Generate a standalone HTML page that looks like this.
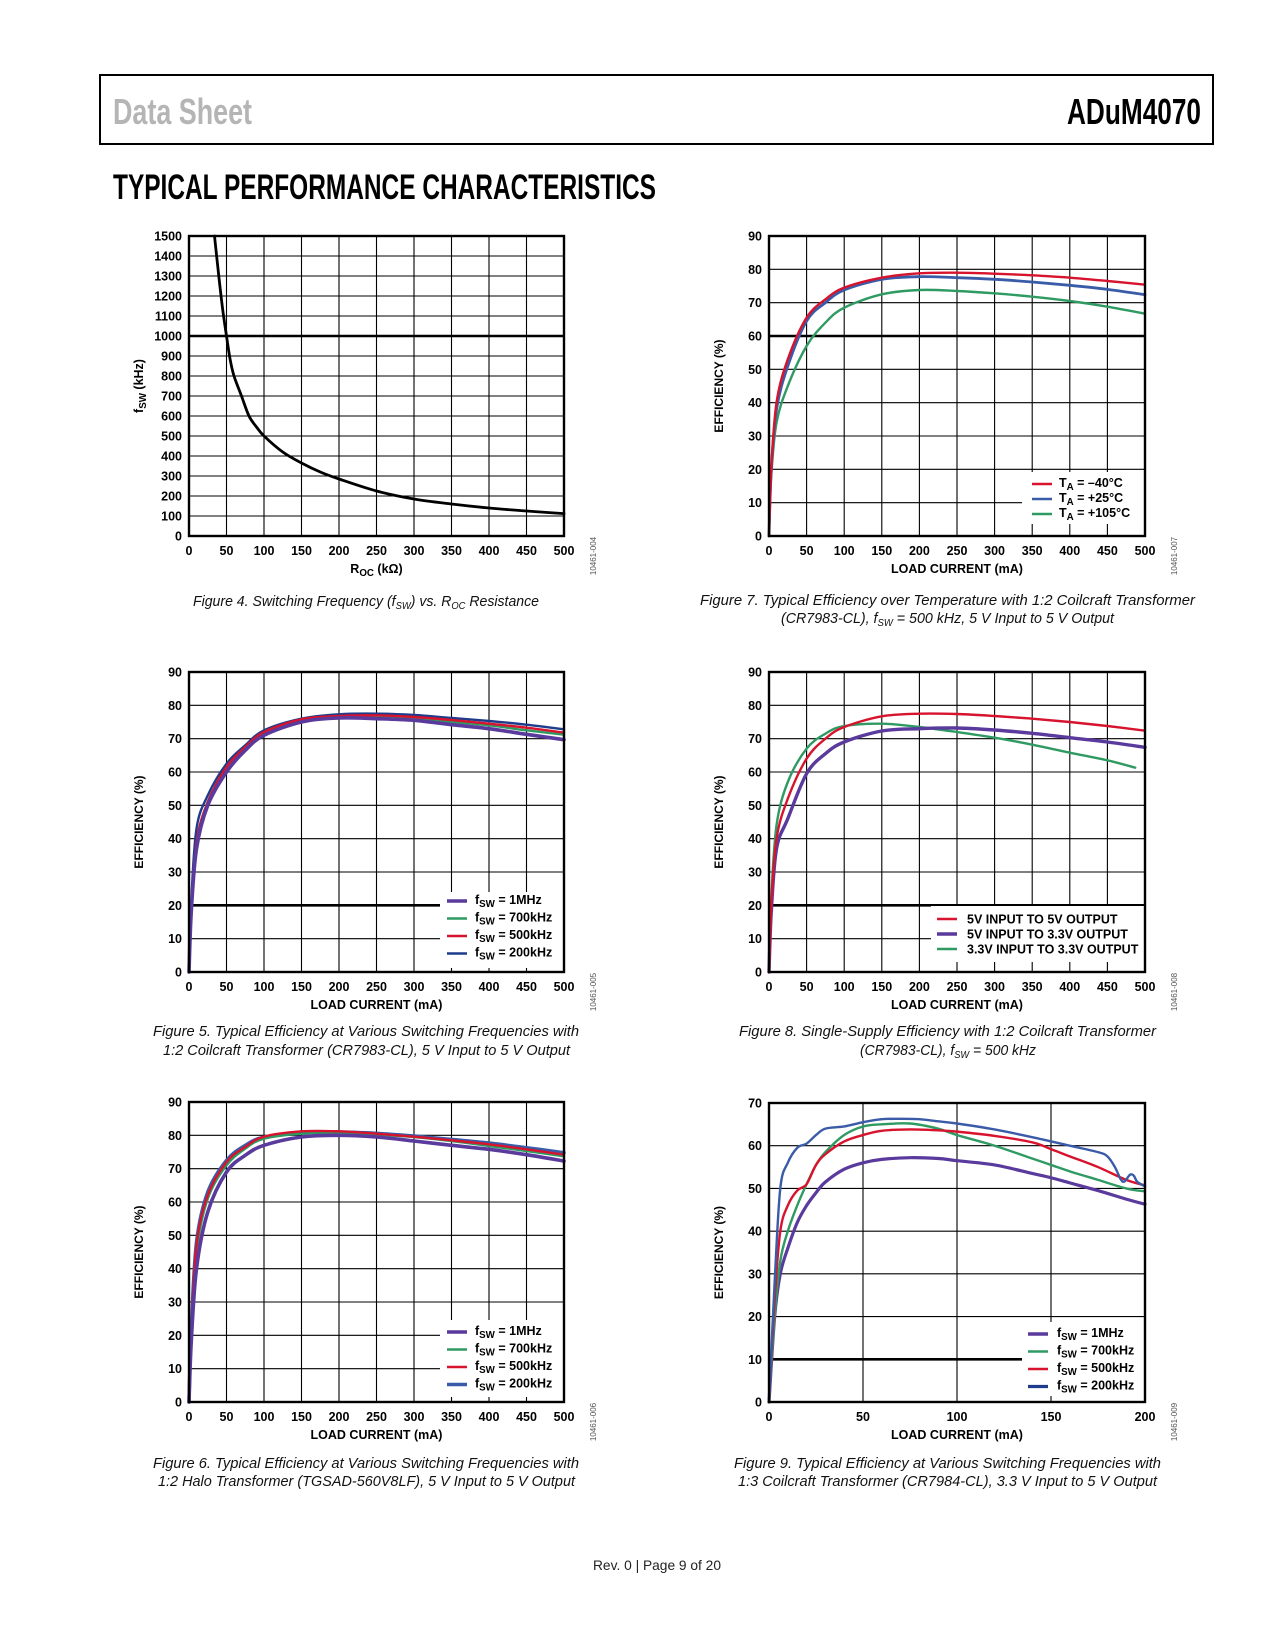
<!DOCTYPE html>
<html><head><meta charset="utf-8"><title>ADuM4070 Typical Performance Characteristics</title>
<style>
html,body{margin:0;padding:0;background:#fff;}
svg{display:block;font-family:"Liberation Sans",sans-serif;}
</style></head>
<body>
<svg id="page" xmlns="http://www.w3.org/2000/svg" width="1275" height="1650" viewBox="0 0 1275 1650">
<rect x="0" y="0" width="1275" height="1650" fill="#fff"/>
<rect x="100" y="75" width="1113" height="69" fill="none" stroke="#000" stroke-width="2"/>
<text x="113" y="124" font-size="36" font-weight="bold" fill="#b5b5b5" textLength="139" lengthAdjust="spacingAndGlyphs">Data Sheet</text>
<text x="1067" y="124" font-size="36" font-weight="bold" fill="#000" textLength="134" lengthAdjust="spacingAndGlyphs">ADuM4070</text>
<text x="113" y="199" font-size="35" font-weight="bold" fill="#000" textLength="543" lengthAdjust="spacingAndGlyphs">TYPICAL PERFORMANCE CHARACTERISTICS</text>
<text x="593" y="1570" font-size="14" fill="#222" textLength="128" lengthAdjust="spacingAndGlyphs">Rev. 0 | Page 9 of 20</text>
<g id="charts"></g>
</svg>
<script>
// ---------- Figure 4 data ----------
const fig4R = [34,40,45,50,55,60,70,80,90,100,125,150,175,200,250,300,350,400,450,500];
const fig4F = [1500,1290,1130,1000,880,800,700,600,545,500,420,365,320,285,225,185,160,140,125,112];
// ---------- Figure 7 data ----------
const fig7X = [0,3,10,25,50,75,100,150,200,250,300,350,400,450,500];
const fig7Minus40 = [0,20,40,53,65.5,71,74.5,77.5,78.8,79,78.7,78.2,77.5,76.5,75.4];
const fig7Plus25 = [0,20,38,51,64.5,70,73.8,77,77.8,77.5,77,76.2,75.2,74,72.4];
const fig7Plus105 = [0,18,34,45,57,64,68.5,72.5,73.8,73.5,72.8,71.8,70.5,68.8,66.7];
// ---------- Figure 5 data ----------
const fig5X = [0,3,10,25,50,75,100,150,200,250,300,350,400,450,500];
const fig5F1M = [0,18,37,50,60,66.5,71,75,76.2,76,75.5,74.2,73,71.3,69.7];
const fig5F700k = [0,19,38,51,61,67,71.5,75.5,76.5,76.5,76,75,74,72.5,71.2];
const fig5F500k = [0,19,39,51,61.5,67.5,72,75.8,76.8,77,76.5,75.6,74.5,73.3,71.8];
const fig5F200k = [0,21,43,53,62.5,68,72.5,76,77.3,77.5,77.1,76.2,75.3,74.2,72.8];
// ---------- Figure 8 data ----------
const fig8X = [0,3,10,25,50,75,100,150,200,250,300,350,400,450,500];
const fig8In5Out5 = [0,20,40,52,64,70,73.5,76.7,77.5,77.4,76.8,76,75,73.8,72.4];
const fig8In5Out33 = [0,18,37,46,59.5,65.5,69,72.3,73,73.2,72.6,71.6,70.3,69,67.4];
const fig8GreenX = [0,3,10,25,50,75,100,150,200,250,300,350,400,450,487];
const fig8In33Out33 = [0,22,44,57,67,71.5,73.8,74.5,73.5,72,70.3,68.2,65.8,63.5,61.3];
// ---------- Figure 6 data ----------
const fig6X = [0,3,10,25,50,75,100,150,200,250,300,350,400,450,500];
const fig6F1M = [0,18,40,57,69,74,77,79.5,80,79.5,78.3,77,75.8,74.2,72.3];
const fig6F700k = [0,20,45,61,71,76,79,80.5,80.7,80.2,79.5,78.3,76.8,75.3,73.7];
const fig6F500k = [0,21,47,62,72,76.5,79.6,81.2,81.2,80.5,79.6,78.5,77.3,75.8,74.2];
const fig6F200k = [0,22,48,63,72.5,77,79.5,80.8,81,80.6,79.8,78.8,77.7,76.3,74.8];
// ---------- Figure 9 data ----------
const fig9X = [0,3,6,10,15,20,25,30,40,50,60,75,90,100,120,140,150,160,175,190,200];
const fig9F1M = [0,20,30,36,42,46,49,51.5,54.5,56,56.8,57.2,57,56.5,55.5,53.5,52.5,51.3,49.5,47.5,46.3];
const fig9F700k = [0,20,33,40,46,51,55.5,58.5,62.5,64.5,65,65.2,64,62.5,60,57,55.5,54,52,50,49.3];
const fig9F500k = [0,24,40,46,49.5,51,55.5,58,61,62.5,63.5,63.8,63.6,63.3,62.3,60.8,59.2,57.5,55,52,50.7];
const fig9BlueX = [0,3,6,10,15,20,25,30,40,50,60,70,80,90,100,120,140,160,175,180,184,187,189,192,194,196,200];
const fig9F200k = [0,28,50,56,59.5,60.5,62.5,64,64.5,65.5,66.2,66.3,66.2,65.7,65.2,63.8,62,60,58.5,57.5,55,52.2,51.6,53.2,53,51.5,50.5];

const RED='#d7132d', BLUE='#3a5ca8', DBLUE='#1f3c8c', GREEN='#2f9a62', PURPLE='#5a3a9c';
const NS='http://www.w3.org/2000/svg';
const root=document.getElementById('charts');

function mk(tag,parent){const e=document.createElementNS(NS,tag);parent.appendChild(e);return e;}
function smoothPath(pts){
  let d='M'+pts[0][0].toFixed(2)+','+pts[0][1].toFixed(2);
  for(let i=0;i<pts.length-1;i++){
    const p0=pts[i-1]||pts[i],p1=pts[i],p2=pts[i+1],p3=pts[i+2]||p2;
    const c1x=p1[0]+(p2[0]-p0[0])/6,c1y=p1[1]+(p2[1]-p0[1])/6;
    const c2x=p2[0]-(p3[0]-p1[0])/6,c2y=p2[1]-(p3[1]-p1[1])/6;
    d+=' C'+c1x.toFixed(2)+','+c1y.toFixed(2)+' '+c2x.toFixed(2)+','+c2y.toFixed(2)+' '+p2[0].toFixed(2)+','+p2[1].toFixed(2);
  }
  return d;
}
function subText(t,x,y,main,sub,rest,size,anchor){
  t.setAttribute('x',x);t.setAttribute('y',y);
  t.setAttribute('font-size',size);t.setAttribute('font-weight','bold');
  if(anchor)t.setAttribute('text-anchor',anchor);
  const a=mk('tspan',t);a.textContent=main;
  const b=mk('tspan',t);b.textContent=sub;b.setAttribute('font-size',size*0.78);b.setAttribute('dy','3');
  const c=mk('tspan',t);c.textContent=rest;c.setAttribute('dy','-3');
}

function drawChart(c){
  const g=mk('g',root);
  
  
  const L=c.left,R=c.left+c.w,T=c.top,B=c.top+c.h;
  const sx=v=>L+(v-c.xmin)/(c.xmax-c.xmin)*c.w;
  const sy=v=>B-(v-c.ymin)/(c.ymax-c.ymin)*c.h;
  // grid
  for(let v=c.xmin;v<=c.xmax+1e-9;v+=c.xgrid){
    const l=mk('line',g);
    
    
    l.setAttribute('x1',sx(v));l.setAttribute('x2',sx(v));l.setAttribute('y1',T);l.setAttribute('y2',B);
    l.setAttribute('stroke','#000');l.setAttribute('stroke-width','1.1');
  }
  for(let v=c.ymin;v<=c.ymax+1e-9;v+=c.ystep){
    const l=mk('line',g);
    
    
    l.setAttribute('x1',L);l.setAttribute('x2',R);l.setAttribute('y1',sy(v));l.setAttribute('y2',sy(v));
    l.setAttribute('stroke','#000');l.setAttribute('stroke-width',v===c.heavy?'2.6':'1.1');
  }
  // legend box (covers grid)
  if(c.legend){
    const lb=mk('rect',g);
    
    
    lb.setAttribute('x',c.legend.bx);lb.setAttribute('y',c.legend.by);
    lb.setAttribute('width',R-c.legend.bx-1);lb.setAttribute('height',c.legend.bh);
    lb.setAttribute('fill','#fff');
  }
  // series
  c.series.forEach(s=>{
    const pts=s.x.map((xv,i)=>[sx(xv),sy(s.y[i])]);
    const p=mk('path',g);
    
    
    p.setAttribute('d',smoothPath(pts));
    p.setAttribute('fill','none');p.setAttribute('stroke',s.color);
    p.setAttribute('stroke-width',s.width||2.4);p.setAttribute('stroke-linejoin','round');p.setAttribute('stroke-linecap','round');
  });
  // frame
  const fr=mk('rect',g);
  
  
  fr.setAttribute('x',L);fr.setAttribute('y',T);fr.setAttribute('width',c.w);fr.setAttribute('height',c.h);
  fr.setAttribute('fill','none');fr.setAttribute('stroke','#000');fr.setAttribute('stroke-width','2.4');
  // ticks
  c.xticks.forEach(v=>{
    const t=mk('text',g);
    
    
    t.setAttribute('x',sx(v));t.setAttribute('y',B+19);t.setAttribute('text-anchor','middle');
    t.setAttribute('font-size','12.5');t.setAttribute('font-weight','bold');t.textContent=v;
  });
  c.yticks.forEach(v=>{
    const t=mk('text',g);
    
    
    t.setAttribute('x',L-7);t.setAttribute('y',sy(v)+4.5);t.setAttribute('text-anchor','end');
    t.setAttribute('font-size','12.5');t.setAttribute('font-weight','bold');t.textContent=v;
  });
  // axis titles
  const xt=mk('text',g);
  
  
  if(c.xsub){subText(xt,L+c.w/2,B+37,c.xtitle[0],c.xsub,c.xtitle[1],12.5,'middle');}
  else{xt.setAttribute('x',L+c.w/2);xt.setAttribute('y',B+37);xt.setAttribute('text-anchor','middle');xt.setAttribute('font-size','12.5');xt.setAttribute('font-weight','bold');xt.textContent=c.xtitle;}
  const yt=mk('text',g);
  
  
  yt.setAttribute('transform','translate('+(L-46)+','+(T+c.h/2)+') rotate(-90)');
  if(c.ysub){subText(yt,0,0,c.ytitle[0],c.ysub,c.ytitle[1],12.5,'middle');}
  else{yt.setAttribute('x',0);yt.setAttribute('y',0);yt.setAttribute('text-anchor','middle');yt.setAttribute('font-size','12');yt.setAttribute('font-weight','bold');yt.textContent=c.ytitle;}
  // side code
  const sc=mk('text',g);
  
  
  sc.setAttribute('transform','translate('+(R+32)+','+(B+20)+') rotate(-90)');
  sc.setAttribute('text-anchor','middle');sc.setAttribute('font-size','8');sc.setAttribute('fill','#555');sc.textContent=c.code;
  // legend
  if(c.legend){
    c.legend.items.forEach((it,i)=>{
      const y=c.legend.y0+i*c.legend.dy;
      const ll=mk('line',g);
      
      
      ll.setAttribute('x1',c.legend.lx);ll.setAttribute('x2',c.legend.lx+20);ll.setAttribute('y1',y);ll.setAttribute('y2',y);
      ll.setAttribute('stroke',it.color);ll.setAttribute('stroke-width',it.width||2.4);
      const tt=mk('text',g);
      
      
      if(it.sub){subText(tt,c.legend.tx,y+3,it.main,it.sub,it.rest,12.5);}
      else{tt.setAttribute('x',c.legend.tx);tt.setAttribute('y',y+4.5);tt.setAttribute('font-size','12.5');tt.setAttribute('font-weight','bold');tt.textContent=it.text;}
    });
  }
  // caption
  c.caption.forEach((ln,i)=>{
    const t=mk('text',g);
    
    
    t.setAttribute('x',ln.x);t.setAttribute('y',ln.y);t.setAttribute('font-size','15');t.setAttribute('font-style','italic');
    t.setAttribute('fill','#111');t.setAttribute('textLength',ln.w);t.setAttribute('lengthAdjust','spacingAndGlyphs');
    ln.parts.forEach(p=>{
      const s=mk('tspan',t);s.textContent=p[0];
      if(p[1]==='sub'){s.setAttribute('font-size','10');s.setAttribute('dy','3');}
      if(p[1]==='up'){s.setAttribute('dy','-3');}
    });
  });
}

const effTicks=[0,10,20,30,40,50,60,70,80,90];
const loadTicks=[0,50,100,150,200,250,300,350,400,450,500];
const fswItems=(w200)=>[
  {color:PURPLE,width:3.6,main:'f',sub:'SW',rest:' = 1MHz'},
  {color:GREEN,main:'f',sub:'SW',rest:' = 700kHz'},
  {color:RED,main:'f',sub:'SW',rest:' = 500kHz'},
  {color:w200.c,width:w200.w,main:'f',sub:'SW',rest:' = 200kHz'}];

drawChart({name:'figure-4-switching-frequency-chart',left:189,top:236,w:375,h:300,xmin:0,xmax:500,ymin:0,ymax:1500,xgrid:50,ystep:100,heavy:1000,
  xticks:loadTicks,yticks:[0,100,200,300,400,500,600,700,800,900,1000,1100,1200,1300,1400,1500],
  xtitle:['R','  (kΩ)'],xsub:'OC',ytitle:['f',' (kHz)'],ysub:'SW',code:'10461-004',
  series:[{name:'fsw-vs-roc-line',x:fig4R,y:fig4F,color:'#000',width:2.8}],
  caption:[{x:193,y:606,w:346,parts:[['Figure 4. Switching Frequency (f'],['SW','sub'],[') vs. R','up'],['OC','sub'],[' Resistance','up']]}]});

drawChart({name:'figure-7-efficiency-temperature-chart',left:769,top:236,w:376,h:300,xmin:0,xmax:500,ymin:0,ymax:90,xgrid:50,ystep:10,heavy:60,
  xticks:loadTicks,yticks:effTicks,xtitle:'LOAD CURRENT (mA)',ytitle:'EFFICIENCY (%)',code:'10461-007',
  series:[{name:'series-105c',x:fig7X,y:fig7Plus105,color:GREEN},{name:'series-25c',x:fig7X,y:fig7Plus25,color:BLUE,width:2.8},{name:'series-minus-40c',x:fig7X,y:fig7Minus40,color:RED}],
  legend:{bx:1022,by:472,bh:52,lx:1032,tx:1059,y0:484,dy:15,items:[
    {color:RED,main:'T',sub:'A',rest:' = –40°C'},{color:BLUE,main:'T',sub:'A',rest:' = +25°C'},{color:GREEN,main:'T',sub:'A',rest:' = +105°C'}]},
  caption:[{x:700,y:605,w:495,parts:[['Figure 7. Typical Efficiency over Temperature with 1:2 Coilcraft Transformer']]},
           {x:781,y:623,w:333,parts:[['(CR7983-CL), f'],['SW','sub'],[' = 500 kHz, 5 V Input to 5 V Output','up']]}]});

drawChart({name:'figure-5-efficiency-frequency-chart',left:189,top:672,w:375,h:300,xmin:0,xmax:500,ymin:0,ymax:90,xgrid:50,ystep:10,heavy:20,
  xticks:loadTicks,yticks:effTicks,xtitle:'LOAD CURRENT (mA)',ytitle:'EFFICIENCY (%)',code:'10461-005',
  series:[{name:'series-200khz',x:fig5X,y:fig5F200k,color:DBLUE},{name:'series-700khz',x:fig5X,y:fig5F700k,color:GREEN},{name:'series-500khz',x:fig5X,y:fig5F500k,color:RED},{name:'series-1mhz',x:fig5X,y:fig5F1M,color:PURPLE,width:3.6}],
  legend:{bx:440,by:892,bh:76,lx:447,tx:475,y0:901,dy:17.5,items:fswItems({c:DBLUE,w:2.4})},
  caption:[{x:153,y:1036,w:426,parts:[['Figure 5. Typical Efficiency at Various Switching Frequencies with']]},
           {x:163,y:1055,w:407,parts:[['1:2 Coilcraft Transformer (CR7983-CL), 5 V Input to 5 V Output']]}]});

drawChart({name:'figure-8-single-supply-chart',left:769,top:672,w:376,h:300,xmin:0,xmax:500,ymin:0,ymax:90,xgrid:50,ystep:10,heavy:20,
  xticks:loadTicks,yticks:effTicks,xtitle:'LOAD CURRENT (mA)',ytitle:'EFFICIENCY (%)',code:'10461-008',
  series:[{name:'series-3v3-in-3v3-out',x:fig8GreenX,y:fig8In33Out33,color:GREEN},{name:'series-5v-in-3v3-out',x:fig8X,y:fig8In5Out33,color:PURPLE,width:3.4},{name:'series-5v-in-5v-out',x:fig8X,y:fig8In5Out5,color:RED}],
  legend:{bx:931,by:906,bh:56,lx:937,tx:967,y0:919,dy:15,items:[
    {color:RED,text:'5V INPUT TO 5V OUTPUT'},{color:PURPLE,width:3.4,text:'5V INPUT TO 3.3V OUTPUT'},{color:GREEN,text:'3.3V INPUT TO 3.3V OUTPUT'}]},
  caption:[{x:739,y:1036,w:417,parts:[['Figure 8. Single-Supply Efficiency with 1:2 Coilcraft Transformer']]},
           {x:860,y:1055,w:176,parts:[['(CR7983-CL), f'],['SW','sub'],[' = 500 kHz','up']]}]});

drawChart({name:'figure-6-halo-transformer-chart',left:189,top:1102,w:375,h:300,xmin:0,xmax:500,ymin:0,ymax:90,xgrid:50,ystep:10,heavy:null,
  xticks:loadTicks,yticks:effTicks,xtitle:'LOAD CURRENT (mA)',ytitle:'EFFICIENCY (%)',code:'10461-006',
  series:[{name:'series-200khz',x:fig6X,y:fig6F200k,color:BLUE,width:3.4},{name:'series-700khz',x:fig6X,y:fig6F700k,color:GREEN},{name:'series-500khz',x:fig6X,y:fig6F500k,color:RED},{name:'series-1mhz',x:fig6X,y:fig6F1M,color:PURPLE,width:3.6}],
  legend:{bx:440,by:1320,bh:77,lx:447,tx:475,y0:1332,dy:17.5,items:fswItems({c:BLUE,w:3.4})},
  caption:[{x:153,y:1468,w:426,parts:[['Figure 6. Typical Efficiency at Various Switching Frequencies with']]},
           {x:158,y:1486,w:417,parts:[['1:2 Halo Transformer (TGSAD-560V8LF), 5 V Input to 5 V Output']]}]});

drawChart({name:'figure-9-1to3-transformer-chart',left:769,top:1103,w:376,h:299,xmin:0,xmax:200,ymin:0,ymax:70,xgrid:50,ystep:10,heavy:10,
  xticks:[0,50,100,150,200],yticks:[0,10,20,30,40,50,60,70],xtitle:'LOAD CURRENT (mA)',ytitle:'EFFICIENCY (%)',code:'10461-009',
  series:[{name:'series-1mhz',x:fig9X,y:fig9F1M,color:PURPLE,width:3.2},{name:'series-700khz',x:fig9X,y:fig9F700k,color:GREEN},{name:'series-500khz',x:fig9X,y:fig9F500k,color:RED},{name:'series-200khz',x:fig9BlueX,y:fig9F200k,color:BLUE}],
  legend:{bx:1022,by:1322,bh:74,lx:1028,tx:1057,y0:1334,dy:17.5,items:fswItems({c:DBLUE,w:3.2})},
  caption:[{x:734,y:1468,w:427,parts:[['Figure 9. Typical Efficiency at Various Switching Frequencies with']]},
           {x:738,y:1486,w:419,parts:[['1:3 Coilcraft Transformer (CR7984-CL), 3.3 V Input to 5 V Output']]}]});
</script>
</body></html>
